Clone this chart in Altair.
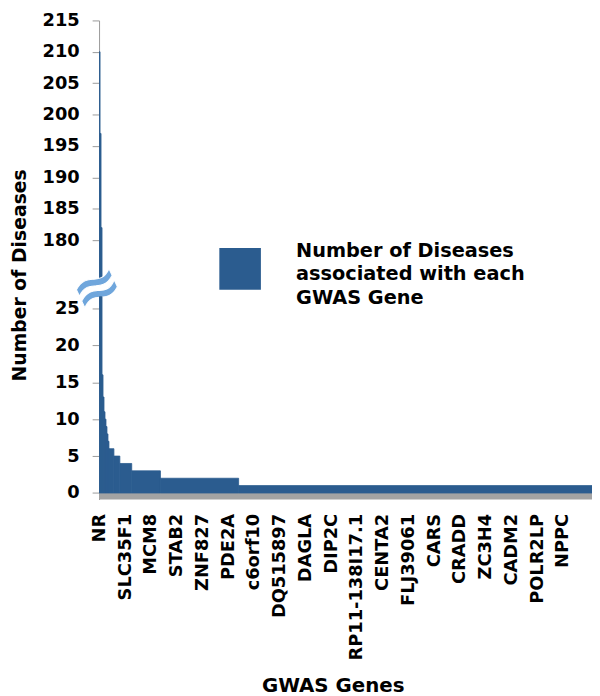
import altair as alt
import pandas as pd

# ---- data ----
# Distinct values (diseases per gene), sorted descending, and how many genes share each
run_values = [210, 197, 182, 16, 13, 11, 10, 9, 8, 7, 6, 5, 4, 3, 2, 1]
run_counts = [1, 1, 1, 1, 1, 1, 1, 1, 1, 1, 5, 6, 12, 29, 79, 357]

# Gene names shown on the x axis (every 26th gene)
label_names = ["NR", "SLC35F1", "MCM8", "STAB2", "ZNF827", "PDE2A", "c6orf10",
               "DQ515897", "DAGLA", "DIP2C", "RP11-138I17.1", "CENTA2", "FLJ39061",
               "CARS", "CRADD", "ZC3H4", "CADM2", "POLR2LP", "NPPC"]
label_step = 26

upper_ticks = [180, 185, 190, 195, 200, 205, 210, 215]
lower_ticks = [0, 5, 10, 15, 20, 25]

legend_text = ["Number of Diseases", "associated with each", "GWAS Gene"]

# ---- build table (runs of genes) ----
starts, ends = [], []
pos = 0
for c in run_counts:
    starts.append(pos)
    pos += c
    ends.append(pos)
n_genes = pos
df = pd.DataFrame({"value": run_values, "start": starts, "end": ends})

BLUE = "#2B5C8F"
FONT = "DejaVu Sans"
W = 498

xscale = alt.Scale(domain=[0, n_genes], nice=False, zero=False)
label_js = "[" + ",".join("'" + n + "'" for n in label_names) + "]"
tick_vals = [i * label_step + 0.5 for i in range(len(label_names))]

axis_common = dict(
    domainColor="#9a9a9a", tickColor="#9a9a9a", tickSize=7, labelPadding=13,
    labelFont=FONT, labelFontWeight="bold", labelFontSize=18, labelColor="black",
    grid=False,
)

# ---- upper panel (180-215) ----
upper_bars = alt.Chart(df).mark_rect(color=BLUE, stroke=BLUE, strokeWidth=0.8, clip=True).encode(
    x=alt.X("start:Q", scale=xscale, axis=None),
    x2="end:Q",
    y=alt.Y("value:Q",
            scale=alt.Scale(domain=[173.7, 215], nice=False, zero=False),
            axis=alt.Axis(values=upper_ticks, title="Number of Diseases",
                          titleFont=FONT, titleFontWeight="bold", titleFontSize=19,
                          titleColor="black", titleX=-70, titleY=257,
                          **axis_common)),
    y2=alt.datum(0),
)

legend_square = alt.Chart(pd.DataFrame({"k": [0]})).mark_square(
    color=BLUE, size=1764, opacity=1, filled=True
).encode(x=alt.value(142.5), y=alt.value(251))

legend_label = alt.Chart(pd.DataFrame({"t": [legend_text]})).mark_text(
    align="left", baseline="top", font=FONT, fontWeight="bold", fontSize=19.5,
    lineHeight=23.5, color="black"
).encode(x=alt.value(199), y=alt.value(224), text="t")

break_mark = alt.Chart(pd.DataFrame({"s": ["≈"]})).mark_text(
    font=FONT, fontWeight="bold", fontSize=62, color="#6FA6DC", stroke="white",
    strokeWidth=1, angle=335, align="center", baseline="middle"
).encode(x=alt.value(-2), y=alt.value(271), text="s")

upper = alt.layer(upper_bars, legend_square, legend_label, break_mark).properties(
    width=W, height=262
)

# ---- lower panel (0-26) ----
lower_bars = alt.Chart(df).mark_rect(color=BLUE, stroke=BLUE, strokeWidth=0.8, clip=True).encode(
    x=alt.X("start:Q", scale=xscale,
            axis=alt.Axis(values=tick_vals,
                          labelExpr=label_js + "[floor(datum.value/" + str(label_step) + ")]",
                          labelAngle=270, labelAlign="right", labelBaseline="middle",
                          labelFont=FONT, labelFontWeight="bold", labelFontSize=18,
                          labelColor="black", labelPadding=14, labelOverlap=False,
                          labelFlush=False, domain=False, ticks=False, grid=False,
                          title="GWAS Genes", titleFont=FONT, titleFontWeight="bold",
                          titleFontSize=20, titleColor="black", titlePadding=16,
                          titleX=236)),
    x2="end:Q",
    y=alt.Y("value:Q",
            scale=alt.Scale(domain=[-0.88, 26.6], nice=False, zero=False),
            axis=alt.Axis(values=lower_ticks, title=None, **axis_common)),
    y2=alt.datum(0),
)

floor = alt.Chart(pd.DataFrame({"k": [0]})).mark_rect(color="#A3A3A3").encode(
    x=alt.value(0), x2=alt.value(W), y=alt.datum(0), y2=alt.datum(-0.88)
)

lower = alt.layer(floor, lower_bars).properties(width=W, height=205)

chart = alt.vconcat(upper, lower, spacing=17, bounds="flush").resolve_scale(
    y="independent"
).properties(
    padding={"left": 3, "top": 0, "right": 0, "bottom": 0}
).configure_view(stroke=None)

chart.save("out.html", embed_options={"renderer": "svg", "actions": False})
